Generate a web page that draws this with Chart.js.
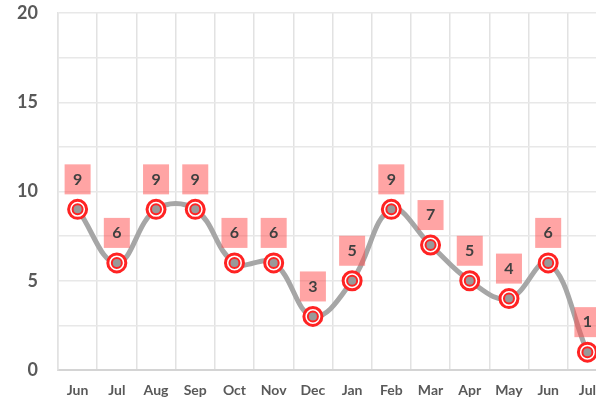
<!DOCTYPE html>
<html>
<head>
<meta charset="utf-8">
<script src="https://cdn.jsdelivr.net/npm/chart.js@4"></script>
<style>
  html, body { margin: 0; padding: 0; background: #fff; overflow: hidden; }
  #chart { display: block; }
</style>
</head>
<body>
<canvas id="chart" width="608" height="404"></canvas>
<script>
const months = ['Jun', 'Jul', 'Aug', 'Sep', 'Oct', 'Nov', 'Dec', 'Jan', 'Feb', 'Mar', 'Apr', 'May', 'Jun', 'Jul'];
const counts = [9, 6, 9, 9, 6, 6, 3, 5, 9, 7, 5, 4, 6, 1];
const yTicks = [0, 5, 10, 15, 20];

const RED = '#ff2323';
const GREY = '#a6a6a6';

// pink boxes with the value above each point
const boxLabels = {
  id: 'boxLabels',
  afterDatasetsDraw(chart) {
    const ctx = chart.ctx;
    const meta = chart.getDatasetMeta(0);
    ctx.save();
    ctx.font = 'bold 16px Lato';
    ctx.textAlign = 'center';
    ctx.textBaseline = 'middle';
    meta.data.forEach((pt, i) => {
      const x = pt.x, y = pt.y;
      ctx.fillStyle = 'rgba(255, 80, 80, 0.52)';
      ctx.fillRect(x - 13, y - 45, 26, 30);
      ctx.fillStyle = '#404040';
      ctx.fillText(String(counts[i]), x, y - 30);
    });
    ctx.restore();
  }
};

new Chart(document.getElementById('chart'), {
  type: 'line',
  data: {
    labels: months,
    datasets: [
      {
        // inner dot
        data: counts,
        showLine: false,
        pointRadius: 5,
        pointBorderWidth: 2,
        pointBorderColor: RED,
        pointBackgroundColor: '#999',
        order: 1
      },
      {
        // outer ring
        data: counts,
        showLine: false,
        pointRadius: 9,
        pointBorderWidth: 3,
        pointBorderColor: RED,
        pointBackgroundColor: '#fff',
        order: 2
      },
      {
        data: counts,
        borderColor: GREY,
        borderWidth: 5,
        tension: 0.4,
        pointRadius: 0,
        fill: false,
        order: 3
      }
    ]
  },
  options: {
    responsive: false,
    animation: false,
    layout: { autoPadding: false, padding: 0 },
    plugins: {
      legend: { display: false },
      tooltip: { enabled: false }
    },
    scales: {
      x: {
        offset: true,
        grid: { offset: true, color: '#e2e2e2', lineWidth: 1.5, drawTicks: false },
        border: { color: '#d4d4d4', width: 2 },
        ticks: {
          color: '#595959',
          font: { family: 'Lato', weight: 'bold', size: 14 },
          padding: 12,
          maxRotation: 0,
          autoSkip: false
        },
        afterFit(scale) { scale.height = 34; }
      },
      y: {
        min: 0,
        max: 20,
        grid: { color: '#e8e8e8', lineWidth: 1.5, drawTicks: false },
        border: { color: '#e2e2e2', width: 1.5 },
        ticks: {
          stepSize: 2.5,
          color: '#595959',
          font: { family: 'Lato', weight: 'bold', size: 18 },
          padding: 20,
          callback: v => yTicks.includes(v) ? v : ''
        },
        afterFit(scale) {
          scale.width = 58;
          scale.paddingTop = 13;
        }
      }
    }
  },
  plugins: [boxLabels]
});
</script>
</body>
</html>
